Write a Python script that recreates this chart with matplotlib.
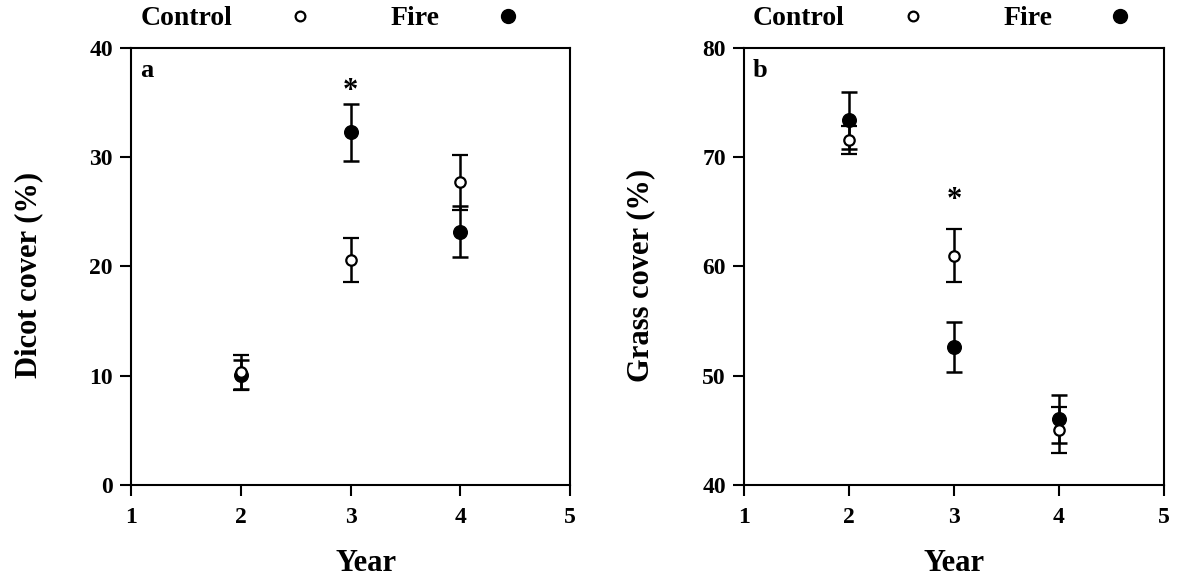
import matplotlib
matplotlib.use("Agg")
import matplotlib.pyplot as plt
from matplotlib.lines import Line2D

plt.rcParams['font.family'] = ['Liberation Serif', 'DejaVu Serif']
plt.rcParams['font.weight'] = 'bold'

years = [2, 3, 4]

# Panel a: Dicot cover (%)
dicot_control = [10.3, 20.6, 27.7]
dicot_control_err = [1.6, 2.0, 2.5]
dicot_fire = [10.1, 32.3, 23.2]
dicot_fire_err = [1.3, 2.6, 2.3]

# Panel b: Grass cover (%)
grass_control = [71.6, 61.0, 45.0]
grass_control_err = [1.3, 2.4, 2.1]
grass_fire = [73.4, 52.6, 46.0]
grass_fire_err = [2.6, 2.3, 2.2]

sig_year_a, sig_y_a = 3, 36.0
sig_year_b, sig_y_b = 3, 66.0

fig = plt.figure(figsize=(11.77, 5.79), dpi=100)
ax_a = fig.add_axes([0.1113, 0.1624, 0.373, 0.7547])
ax_b = fig.add_axes([0.632, 0.1624, 0.357, 0.7547])

def draw(ax, ctrl, cerr, fire, ferr, ylim, yticks, ylabel, letter, sig,
         ylab_x, xlab_x):
    ax.errorbar(years, fire, yerr=ferr, fmt='o', color='black', ms=9.8,
                elinewidth=1.8, capsize=5.5, capthick=1.8, zorder=3)
    ax.errorbar(years, ctrl, yerr=cerr, fmt='o', color='black', mfc='white',
                mec='black', mew=1.6, ms=7.5, elinewidth=1.8, capsize=5.5,
                capthick=1.8, zorder=4)
    ax.text(sig[0], sig[1], '*', ha='center', va='center', fontsize=22,
            fontweight='bold')
    ax.set_xlim(1, 5)
    ax.set_ylim(*ylim)
    ax.set_xticks([1, 2, 3, 4, 5])
    ax.set_yticks(yticks)
    ax.tick_params(direction='out', length=8, width=1.5, labelsize=17)
    ax.tick_params(axis='x', pad=8)
    ax.tick_params(axis='y', pad=5)
    for lab in ax.get_xticklabels() + ax.get_yticklabels():
        lab.set_fontweight('bold')
    for s in ax.spines.values():
        s.set_linewidth(1.5)
    ax.set_xlabel('Year', fontsize=22, fontweight='bold')
    ax.set_ylabel(ylabel, fontsize=22, fontweight='bold')
    ax.xaxis.set_label_coords(xlab_x, -0.146)
    ax.yaxis.set_label_coords(ylab_x, 0.48)
    ax.text(0.02, 0.975, letter, transform=ax.transAxes, ha='left', va='top',
            fontsize=19, fontweight='bold')
    handles = [Line2D([], [], ls='none', marker='o', mfc='white', mec='black',
                      mew=1.6, ms=7, color='black', label='Control'),
               Line2D([], [], ls='none', marker='o', color='black', ms=10,
                      label='Fire')]
    ax.legend(handles=handles, ncol=2, markerfirst=False, frameon=False,
              loc='lower left', bbox_to_anchor=(0.015, 1.032), borderaxespad=0,
              borderpad=0.1, prop={'weight': 'bold', 'size': 20},
              handlelength=1.0, handletextpad=1.95, columnspacing=2.75)

draw(ax_a, dicot_control, dicot_control_err, dicot_fire, dicot_fire_err,
     (0, 40), [0, 10, 20, 30, 40], 'Dicot cover (%)', 'a', (sig_year_a, sig_y_a),
     -0.2, 0.535)
draw(ax_b, grass_control, grass_control_err, grass_fire, grass_fire_err,
     (40, 80), [40, 50, 60, 70, 80], 'Grass cover (%)', 'b', (sig_year_b, sig_y_b),
     -0.21, 0.5)

fig.savefig('out.png', dpi=100)
